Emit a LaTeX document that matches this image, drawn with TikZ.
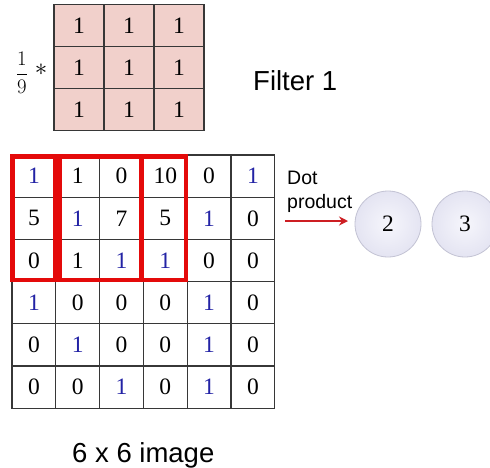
\documentclass[tikz,border=0pt]{standalone}
\usepackage{fontspec}
\setmainfont{Liberation Serif}
\newfontfamily\arialfont{Liberation Sans}
\usetikzlibrary{arrows.meta}
\definecolor{pinkfill}{RGB}{241,208,203}
\definecolor{gridline}{RGB}{55,55,55}
\definecolor{bluenum}{RGB}{35,35,165}
\definecolor{redbox}{RGB}{228,10,10}
\definecolor{arrowred}{RGB}{205,30,35}
\definecolor{circin}{RGB}{246,246,252}
\definecolor{circout}{RGB}{228,228,242}
\definecolor{circline}{RGB}{195,195,212}
\begin{document}
\begin{tikzpicture}[x=1pt,y=-1pt,
  fcell/.style={draw=gridline, line width=1.2pt, fill=pinkfill, minimum width=50pt, minimum height=42pt, inner sep=0pt, font=\fontsize{23.5}{23.5}\selectfont},
  icell/.style={draw=gridline, line width=1.1pt, minimum width=43.8pt, minimum height=42.2pt, inner sep=0pt, font=\fontsize{23.5}{23.5}\selectfont},
  redline/.style={draw=redbox, line width=4.3pt},
  outcirc/.style={circle, draw=circline, line width=0.8pt, inner color=circin, outer color=circout, minimum size=66pt, inner sep=0pt, font=\fontsize{23.5}{23.5}\selectfont},
  label/.style={inner sep=0pt, font=\arialfont\fontsize{27.5}{27.5}\selectfont},
  smalllabel/.style={inner sep=0pt, font=\arialfont\fontsize{19.5}{19.5}\selectfont}]
\useasboundingbox[fill=white] (0,0) rectangle (490,467);
% filter
\foreach \j in {0,1,2}{
  \foreach \i in {0,1,2}{
    \node[fcell] (f-\j-\i) at (54+25+50*\i, 4.3+21+42*\j) {1};
  }
}
\node[inner sep=0pt, font=\fontsize{21}{21}\selectfont] (frac) at (22,73) {\(\displaystyle\frac{1}{9}\)};
\node[inner sep=0pt, font=\fontsize{25}{25}\selectfont] (star) at (41,70) {\(\ast\)};
\node[label, anchor=base west] (filt) at (253,90) {Filter 1};
% image
\foreach \row [count=\j from 0] in {
  {1/bluenum,1/black,0/black,10/black,0/black,1/bluenum},
  {5/black,1/bluenum,7/black,5/black,1/bluenum,0/black},
  {0/black,1/black,1/bluenum,1/bluenum,0/black,0/black},
  {1/bluenum,0/black,0/black,0/black,1/bluenum,0/black},
  {0/black,1/bluenum,0/black,0/black,1/bluenum,0/black},
  {0/black,0/black,1/bluenum,0/black,1/bluenum,0/black}}{
  \foreach \v/\c [count=\i from 0] in \row {
    \node[icell, text=\c] (m-\j-\i) at (12+21.9+43.8*\i, 155+21.1+42.2*\j) {\v};
  }
}
% red windows
\draw[redline] ([shift={(1,2)}]m-0-0.north west) rectangle ([shift={(-2,-2)}]m-2-3.south east);
\draw[redline] (55.5,157) -- (55.5,280);
\draw[redline] (60,157) -- (60,280);
\draw[redline] (141.5,157) -- (141.5,280);
% dot product
\node[smalllabel, anchor=base west] (dot) at (287,184) {Dot};
\node[smalllabel, anchor=base west] (prod) at (287,208) {product};
\node[outcirc] (c2) at (388,224) {2};
\node[outcirc] (c3) at (465,224) {3};
\coordinate (as) at (285,221);
\coordinate (ae) at (348,221);
\draw[arrowred, line width=2.4pt, -{Stealth[length=9pt,width=9pt]}] (as) -- (ae);
\node[label, anchor=base west] (cap) at (72,462) {6 x 6 image};
\end{tikzpicture}
\end{document}
